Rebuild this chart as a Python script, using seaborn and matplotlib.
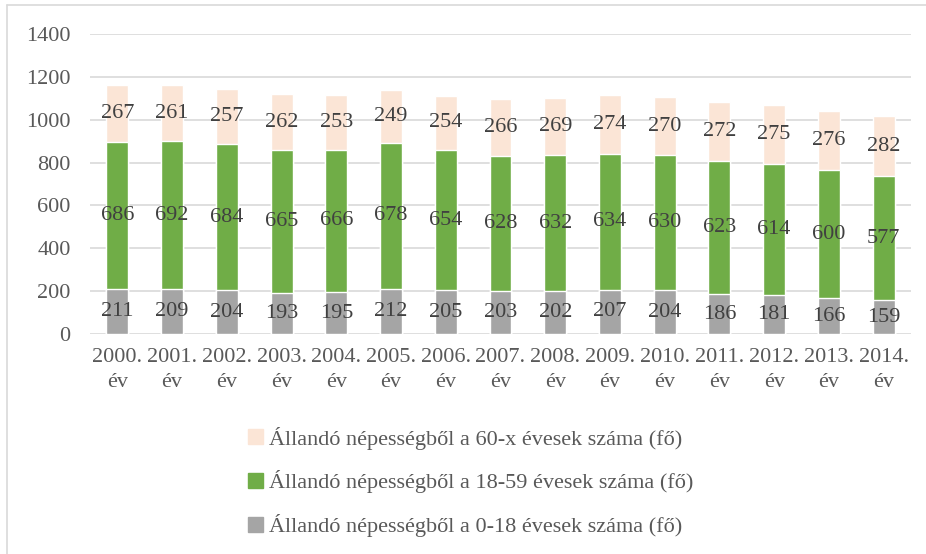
import seaborn as sns
import matplotlib.pyplot as plt
import matplotlib.patches as mpatches
from matplotlib.lines import Line2D
import pandas as pd

sns.set_style("white")
plt.rcParams['font.family'] = ['Liberation Serif', 'DejaVu Serif']

# adatok (fő)
evek = ["2000.", "2001.", "2002.", "2003.", "2004.", "2005.", "2006.", "2007.",
        "2008.", "2009.", "2010.", "2011.", "2012.", "2013.", "2014."]
kor_0_18 = [211, 209, 204, 193, 195, 212, 205, 203, 202, 207, 204, 186, 181, 166, 159]
kor_18_59 = [686, 692, 684, 665, 666, 678, 654, 628, 632, 634, 630, 623, 614, 600, 577]
kor_60_x = [267, 261, 257, 262, 253, 249, 254, 266, 269, 274, 270, 272, 275, 276, 282]

nevek = ["Állandó népességből a 60-x évesek száma (fő)",
         "Állandó népességből a 18-59 évesek száma (fő)",
         "Állandó népességből a 0-18 évesek száma (fő)"]
szinek = ["#FBE5D6", "#70AD47", "#A5A5A5"]

cimkek = [e + "\név" for e in evek]
df = pd.DataFrame({"ev": cimkek, "a": kor_0_18, "b": kor_18_59, "c": kor_60_x})
df["ab"] = df["a"] + df["b"]
df["abc"] = df["ab"] + df["c"]

fig = plt.figure(figsize=(9.26, 5.54), dpi=100)
ax = fig.add_axes([0.0972, 0.397, 0.8866, 0.5415])

# egymásra rajzolt oszlopok (teljes -> részösszegek)
sns.barplot(x="ev", y="abc", data=df, color=szinek[0], width=0.4, ax=ax, saturation=1)
sns.barplot(x="ev", y="ab", data=df, color=szinek[1], width=0.4, ax=ax, saturation=1)
sns.barplot(x="ev", y="a", data=df, color=szinek[2], width=0.4, ax=ax, saturation=1)

# adatfeliratok
for i in range(len(df)):
    ax.text(i, df["a"][i] / 2, str(df["a"][i]), ha="center", va="center",
            fontsize=16, color="#404040")
    ax.text(i, df["a"][i] + df["b"][i] / 2, str(df["b"][i]), ha="center", va="center",
            fontsize=16, color="#404040")
    ax.text(i, df["ab"][i] + df["c"][i] / 2, str(df["c"][i]), ha="center", va="center",
            fontsize=16, color="#404040")

ax.set_ylim(0, 1400)
ax.set_xlim(-0.5, len(df) - 0.5)
ax.set_yticks(range(0, 1401, 200))
ax.yaxis.grid(True, color="#D9D9D9", linewidth=1.2)
ax.set_axisbelow(True)
for s in ax.spines.values():
    s.set_visible(False)
ax.set_xlabel("")
ax.set_ylabel("")
ax.tick_params(axis="both", length=0, labelsize=16, colors="#595959")
ax.tick_params(axis="y", pad=14)
ax.tick_params(axis="x", pad=10)
for t in ax.get_xticklabels():
    t.set_linespacing(1.45)

fogantyuk = [mpatches.Patch(color=c) for c in szinek]
fig.legend(fogantyuk, nevek, loc="upper left", bbox_to_anchor=(0.268, 0.23),
           frameon=False, fontsize=16, labelcolor="#595959", borderpad=0,
           borderaxespad=0, labelspacing=0.93, handlelength=0.65, handleheight=0.65,
           handletextpad=0.3)

# keret csak bal és felső oldalon (levágott kép)
fig.lines.append(Line2D([0.008, 0.008], [0.0, 0.991], transform=fig.transFigure,
                        color="#D9D9D9", linewidth=1.2))
fig.lines.append(Line2D([0.008, 1.0], [0.991, 0.991], transform=fig.transFigure,
                        color="#D9D9D9", linewidth=1.2))

fig.savefig("out.png", dpi=100)
